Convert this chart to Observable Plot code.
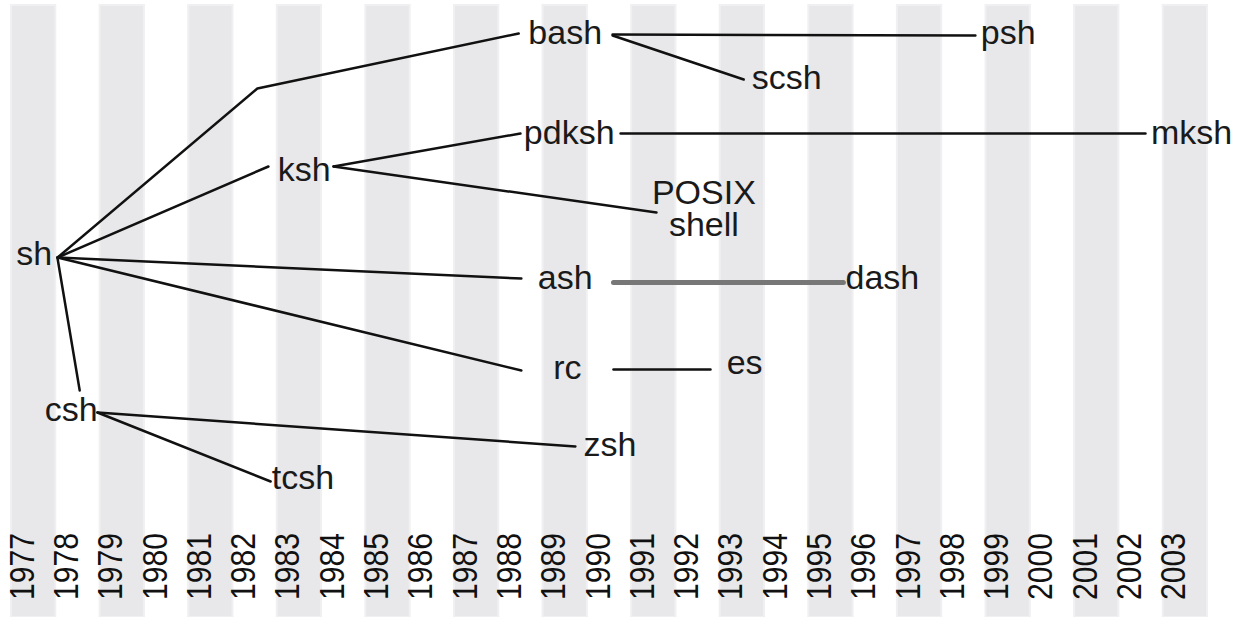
<!DOCTYPE html>
<html>
<head>
<meta charset="utf-8">
<script src="https://cdn.jsdelivr.net/npm/d3@7"></script>
<script src="https://cdn.jsdelivr.net/npm/@observablehq/plot@0.6"></script>
<style>
  html, body { margin: 0; padding: 0; background: #fff; }
  #chart svg { display: block; }
</style>
</head>
<body>
<div id="chart"></div>
<script>
// Year columns (tick labels)
const years = [1977, 1978, 1979, 1980, 1981, 1982, 1983, 1984, 1985, 1986, 1987, 1988, 1989, 1990,
               1991, 1992, 1993, 1994, 1995, 1996, 1997, 1998, 1999, 2000, 2001, 2002, 2003];
// Shaded year bands
const shadedYears = [1977, 1979, 1981, 1983, 1985, 1987, 1989, 1991, 1993, 1995, 1997, 1999, 2001, 2003];

// Shell names, their year position and their vertical level (baseline)
const shellNames  = ["sh", "csh", "tcsh", "ksh", "bash", "psh", "scsh", "pdksh", "mksh", "POSIX\nshell", "ash", "dash", "rc", "es", "zsh"];
const shellYears  = [1977.01, 1977.85, 1983.08, 1983.11, 1989.0, 1999.0, 1994.0, 1989.09, 2003.14, 1992.13, 1989.0, 1996.16, 1989.05, 1993.05, 1990.01];
const shellLevels = [264, 420, 488, 180, 43, 43, 88, 143, 143, 235, 288, 288, 378, 373, 455];

// Lineage links: each is a list of [year, level] points
const linkNames = ["sh-ksh", "sh-bash", "sh-ash", "sh-rc", "sh-csh", "ksh-pdksh", "ksh-posix",
                   "bash-psh", "bash-scsh", "pdksh-mksh", "ash-dash", "rc-es", "csh-zsh", "csh-tcsh"];
const linkPoints = [
  [[1977.54, 257], [1982.30, 166]],
  [[1977.54, 257], [1982.05, 88], [1987.95, 33]],
  [[1977.54, 257], [1988.01, 278]],
  [[1977.54, 257], [1988.01, 370]],
  [[1977.54, 258], [1978.04, 390]],
  [[1983.77, 166], [1987.99, 133]],
  [[1983.77, 166], [1991.06, 212]],
  [[1990.07, 34], [1998.26, 35]],
  [[1990.07, 35], [1993.03, 79]],
  [[1990.25, 133], [2002.10, 133]],
  [[1990.09, 282], [1995.28, 282]],
  [[1990.09, 369], [1992.28, 369]],
  [[1978.44, 412], [1989.23, 446]],
  [[1978.44, 412], [1982.35, 481]]
];
const linkKinds = ["solid", "solid", "solid", "solid", "solid", "solid", "solid",
                   "solid", "solid", "solid", "gray", "solid", "solid", "solid"];

const shells = shellNames.map((name, i) => ({name, year: shellYears[i], level: shellLevels[i]}));
const linkRows = linkNames.flatMap((id, i) =>
  linkPoints[i].map(([year, level]) => ({id, year, level, kind: linkKinds[i]})));

const font = "'Liberation Sans', Arial, Helvetica, sans-serif";

const chart = Plot.plot({
  width: 1237,
  height: 617,
  margin: 0,
  x: {type: "linear", domain: [1976.5, 2003.5], range: [11, 1207], axis: null},
  y: {type: "linear", domain: [0, 617], range: [0, 617], axis: null},
  style: {background: "#fff", fontFamily: font},
  marks: [
    Plot.rect(shadedYears, {
      x1: d => d - 0.5, x2: d => d + 0.5,
      insetTop: 5,
      fill: "#e8e8ea", stroke: "#f0f0f2", strokeWidth: 2
    }),
    Plot.line(linkRows.filter(d => d.kind === "solid"), {
      x: "year", y: "level", z: "id",
      stroke: "#111", strokeWidth: 2.5, strokeLinejoin: "miter", curve: "linear"
    }),
    Plot.line(linkRows.filter(d => d.kind === "gray"), {
      x: "year", y: "level", z: "id",
      stroke: "#777", strokeWidth: 5
    }),
    Plot.text(shells, {
      x: "year", y: "level", text: "name",
      lineAnchor: "bottom", lineHeight: 0.94,
      fontSize: 34, fill: "#1a1a1a", fontFamily: font
    }),
    Plot.text(years, {
      x: d => d, frameAnchor: "bottom", dy: -51,
      text: d => String(d), rotate: -90,
      fontSize: 35, fill: "#111", fontFamily: font
    })
  ]
});

// Year labels in the reference are horizontally condensed: narrow them along the text direction.
const textGroups = chart.querySelectorAll('g[aria-label="text"]');
const yearGroup = textGroups[textGroups.length - 1];
if (yearGroup) {
  yearGroup.querySelectorAll("text").forEach(t => {
    const tr = t.getAttribute("transform") || "";
    t.setAttribute("transform", tr + " scale(0.86,1)");
  });
}

document.getElementById("chart").appendChild(chart);
</script>
</body>
</html>
